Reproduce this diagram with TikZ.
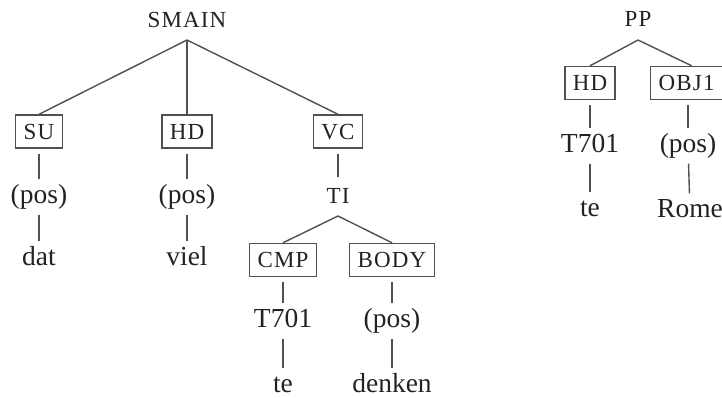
\documentclass[tikz,border=0pt]{standalone}
\usepackage{fontspec}
\setmainfont{Liberation Serif}
\newfontfamily\catfont[LetterSpace=5]{Liberation Serif}
\definecolor{inkgray}{HTML}{222222}
\definecolor{linegray}{HTML}{505050}
\begin{document}
\begin{tikzpicture}[x=1pt,y=-1pt,
  catbox/.style={draw=linegray, line width=1.4pt,
    font=\catfont\fontsize{23}{23}\selectfont, text=inkgray,
    text height=15pt, text depth=0pt, minimum height=33pt,
    inner xsep=8pt, inner ysep=0pt},
  catlabel/.style={font=\catfont\fontsize{23}{23}\selectfont, text=inkgray,
    text height=15pt, text depth=0pt, inner sep=0pt},
  word/.style={font=\fontsize{27.5}{27.5}\selectfont, text=inkgray,
    text height=19pt, text depth=6pt, inner sep=0pt},
  edge/.style={draw=linegray, line width=1.4pt},
  stem/.style={edge, shorten <=5pt, shorten >=5pt}]
\clip (0,0) rectangle (722,397);
\useasboundingbox (0,0) rectangle (722,397);

% --- SMAIN tree ---
\node[catlabel] (smain) at (187,20) {SMAIN};
\coordinate (smainfork) at (187,40);
\node[catbox] (su) at (39,131.5) {SU};
\node[catbox] (hd) at (187,131.5) {HD};
\node[catbox] (vc) at (338,131.5) {VC};
\node[word] (pos1) at (39,197) {(pos)};
\node[word] (dat) at (39,259) {dat};
\node[word] (pos2) at (187,197) {(pos)};
\node[word] (viel) at (187,259) {viel};
\node[catlabel] (ti) at (338,196) {TI};
\coordinate (tifork) at (338,216);
\node[catbox] (cmp) at (283,260) {CMP};
\node[catbox] (body) at (392,260) {BODY};
\node[word] (t701a) at (283,321) {T701};
\node[word] (tea) at (283,386) {te};
\node[word] (pos3) at (392,321) {(pos)};
\node[word] (denken) at (392,386) {denken};

\draw[edge] (smainfork) -- (su.north);
\draw[edge] (smainfork) -- (hd.north);
\draw[edge] (smainfork) -- (vc.north);
\draw[stem] (su) -- (pos1);
\draw[stem] (pos1) -- (dat);
\draw[stem] (hd) -- (pos2);
\draw[stem] (pos2) -- (viel);
\draw[stem, shorten >=11pt] (vc) -- (ti);
\draw[edge] (tifork) -- (cmp.north);
\draw[edge] (tifork) -- (body.north);
\draw[stem] (cmp) -- (t701a);
\draw[stem] (t701a) -- (tea);
\draw[stem] (body) -- (pos3);
\draw[stem] (pos3) -- (denken);

% --- PP tree (runs off the right edge) ---
\node[catlabel] (pp) at (638,19) {PP};
\coordinate (ppfork) at (638,40);
\node[catbox] (hd2) at (590,83) {HD};
\node[catbox, anchor=west, text width=66pt, align=left] (obj) at (650,83) {OBJ1};
\node[word] (t701b) at (590,146) {T701};
\node[word] (teb) at (590,210) {te};
\node[word] (pos4) at (688,146) {(pos)};
\node[word] (rome) at (690,211) {Rome};

\draw[edge] (ppfork) -- (hd2.north);
\draw[edge] (ppfork) -- (obj.north);
\draw[stem] (hd2) -- (t701b);
\draw[stem] (t701b) -- (teb);
\draw[stem] (obj.south -| pos4) -- (pos4);
\draw[stem] (pos4) -- (rome);
\end{tikzpicture}
\end{document}
